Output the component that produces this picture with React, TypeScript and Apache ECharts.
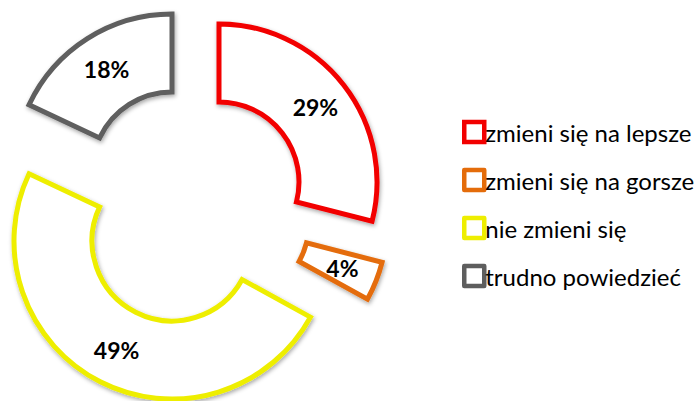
import React, { useEffect, useRef } from "react";
import * as echarts from "echarts";

const categories = ["zmieni się na lepsze", "zmieni się na gorsze", "nie zmieni się", "trudno powiedzieć"];
const values = [29, 4, 49, 18];
const colors = ["#F20000", "#E46C0A", "#EEEE00", "#5E5E5E"];
// exploded centres of each slice (px)
const centers: [number, number][] = [
  [219, 182],
  [229, 223],
  [172, 241],
  [172, 172],
];

export default function App() {
  const ref = useRef<HTMLDivElement>(null);
  useEffect(() => {
    if (!ref.current) return;
    const chart = echarts.init(ref.current, undefined, { renderer: "svg" });
    const series = categories.map((_, k) => ({
      type: "pie",
      name: "s" + k,
      center: centers[k],
      radius: [80, 158],
      startAngle: 90,
      clockwise: true,
      silent: true,
      avoidLabelOverlap: false,
      labelLine: { show: false },
      emphasis: { disabled: true },
      data: values.map((v, i) => ({
        value: v,
        name: categories[i],
        itemStyle:
          i === k
            ? {
                color: "#ffffff",
                borderColor: colors[i],
                borderWidth: 5,
                borderJoin: "miter",
                shadowBlur: 4,
                shadowColor: "rgba(0,0,0,0.35)",
                shadowOffsetX: 1,
                shadowOffsetY: 2,
              }
            : { color: "transparent", borderWidth: 0 },
        label: {
          show: i === k,
          position: "inside",
          formatter: "{c}%",
          color: "#000",
          fontSize: 23,
          fontWeight: "bold",
          fontFamily: "Lato",
        },
      })),
    }));
    chart.setOption({
      animation: false,
      backgroundColor: "#ffffff",
      legend: {
        orient: "vertical",
        left: 457,
        top: 114,
        icon: "rect",
        itemWidth: 20,
        itemHeight: 20,
        itemGap: 22,
        selectedMode: false,
        textStyle: { fontFamily: "Lato", fontSize: 24, color: "#000", lineHeight: 26, padding: [0, 0, 0, -4] },
        data: categories.map((c, i) => ({
          name: c,
          itemStyle: { color: "#ffffff", borderColor: colors[i], borderWidth: 4.5 },
        })),
      },
      series,
    });
    return () => chart.dispose();
  }, []);
  return (
    <div
      ref={ref}
      style={{ position: "fixed", left: 0, top: 0, width: 699, height: 401 }}
    />
  );
}
